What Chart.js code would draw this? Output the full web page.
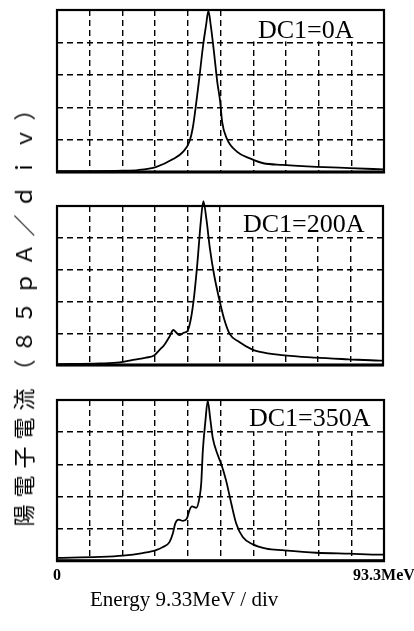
<!DOCTYPE html>
<html>
<head>
<meta charset="utf-8">
<script src="https://cdn.jsdelivr.net/npm/chart.js@4"></script>
<style>
body{margin:0;background:#fff;}
#wrap{position:relative;width:414px;height:631px;overflow:hidden;background:#fff;}
#wrap canvas{position:absolute;left:0;}
.tituloY{position:absolute;left:22px;top:309px;transform:translate(-50%,-50%) rotate(-90deg);
  font-family:"Noto Sans CJK JP";font-size:22px;letter-spacing:7px;white-space:nowrap;color:#000;}
.tituloX{position:absolute;left:90px;top:589px;font-family:"Liberation Serif";font-size:21px;
  line-height:21px;white-space:nowrap;color:#000;}
</style>
</head>
<body>
<div id="wrap">
  <canvas id="panel1" width="414" height="185" style="top:0px"></canvas>
  <canvas id="panel2" width="414" height="180" style="top:195px"></canvas>
  <canvas id="panel3" width="440" height="241" style="top:390px"></canvas>
  <div class="tituloY" id="tituloY"></div>
  <div class="tituloX" id="tituloX"></div>
</div>
<script>
// energy in divisions (9.33 MeV/div), current in divisions (85 pA/div)
var etiquetas = ['DC1=0A', 'DC1=200A', 'DC1=350A'];
var tituloY = '陽電子電流（８５ｐＡ／ｄｉｖ）';
var tituloX = 'Energy 9.33MeV / div';
var tickValores = [0, 10];
var tickEtiquetas = ['0', '93.3MeV'];

var energia1 = [0, 1, 2, 2.48, 3.04, 3.55, 3.86, 4.05, 4.15, 4.25, 4.35, 4.47, 4.56, 4.63, 4.70, 4.80, 4.90, 4.99, 5.05, 5.19, 5.5, 5.9, 6.31, 6.9, 7.94, 8.96, 10];
var corriente1 = [0.03, 0.03, 0.04, 0.06, 0.16, 0.4, 0.63, 0.94, 1.35, 2.07, 2.89, 3.92, 4.54, 4.97, 4.54, 3.71, 2.79, 2.17, 1.55, 1.04, 0.63, 0.42, 0.27, 0.22, 0.16, 0.12, 0.08];

var energia2 = [0, 1.31, 1.92, 2.33, 2.73, 2.99, 3.14, 3.29, 3.45, 3.57, 3.65, 3.75, 3.9, 4.0, 4.11, 4.21, 4.31, 4.41, 4.49, 4.58, 4.69, 4.82, 4.97, 5.12, 5.3, 5.58, 5.98, 6.19, 6.9, 7.92, 8.93, 9.9, 10];
var corriente2 = [0.03, 0.05, 0.08, 0.16, 0.23, 0.31, 0.47, 0.63, 0.89, 1.1, 1.03, 0.94, 1.02, 1.07, 1.47, 2.2, 3.25, 4.5, 5.15, 4.61, 3.67, 2.83, 2.1, 1.47, 0.97, 0.73, 0.49, 0.42, 0.31, 0.23, 0.18, 0.14, 0.14];

var energia3 = [0, 1.3, 2.01, 2.62, 3.03, 3.24, 3.44, 3.54, 3.62, 3.72, 3.85, 3.97, 4.05, 4.13, 4.26, 4.36, 4.41, 4.46, 4.54, 4.61, 4.68, 4.76, 4.92, 5.02, 5.17, 5.33, 5.48, 5.68, 5.99, 6.4, 6.9, 7.93, 8.94, 9.91, 10];
var corriente3 = [0.09, 0.12, 0.16, 0.24, 0.33, 0.43, 0.58, 0.84, 1.17, 1.28, 1.24, 1.31, 1.57, 1.69, 1.65, 1.98, 2.4, 3.43, 4.36, 4.98, 4.47, 3.84, 3.28, 3.02, 2.5, 1.78, 1.16, 0.74, 0.51, 0.38, 0.33, 0.25, 0.22, 0.19, 0.19];

document.getElementById('tituloY').textContent = tituloY;
document.getElementById('tituloX').textContent = tituloX;

// white box behind the label, frame around the plot, then the label
var marcoPanel = {
    id: 'marcoPanel',
    beforeDatasetsDraw: function(chart){
        var a = chart.chartArea, ctx = chart.ctx;
        var xs = chart.scales.x, ys = chart.scales.y;
        ctx.save();
        ctx.fillStyle = '#fff';
        var x0 = xs.getPixelForValue(5.55);
        var y1 = ys.getPixelForValue(4) - 1;
        ctx.fillRect(x0, a.top, a.right - x0, y1 - a.top);
        ctx.strokeStyle = '#000';
        ctx.lineWidth = 2.2;
        ctx.strokeRect(a.left, a.top, a.right - a.left, a.bottom - a.top);
        ctx.lineWidth = 3;
        ctx.beginPath();
        ctx.moveTo(a.left - 1, a.bottom);
        ctx.lineTo(a.right + 1, a.bottom);
        ctx.stroke();
        ctx.restore();
    },
    afterDatasetsDraw: function(chart){
        var o = chart.options.plugins.marcoPanel;
        var a = chart.chartArea, ctx = chart.ctx;
        ctx.save();
        ctx.font = '26px "Liberation Serif"';
        ctx.fillStyle = '#000';
        ctx.textBaseline = 'alphabetic';
        ctx.fillText(o.texto, a.left + o.dx, a.top + o.dy);
        ctx.restore();
    }
};

function crearPanel(id, energia, corriente, texto, dx, dy, padding, conTicks){
    var puntos = energia.map(function(e, i){ return {x: e, y: corriente[i]}; });
    return new Chart(document.getElementById(id), {
        type: 'line',
        data: {
            datasets: [{
                data: puntos,
                borderColor: '#000',
                borderWidth: 1.8,
                pointRadius: 0,
                fill: false,
                cubicInterpolationMode: 'monotone',
                clip: false
            }]
        },
        options: {
            responsive: false,
            animation: false,
            layout: { padding: padding },
            plugins: {
                legend: { display: false },
                tooltip: { enabled: false },
                marcoPanel: { texto: texto, dx: dx, dy: dy }
            },
            scales: {
                x: {
                    type: 'linear',
                    min: 0,
                    max: 10,
                    grid: { color: '#000', lineWidth: 1.4, drawTicks: false },
                    border: { display: false, dash: [6, 4] },
                    ticks: {
                        display: conTicks,
                        stepSize: 1,
                        autoSkip: false,
                        maxRotation: 0,
                        minRotation: 0,
                        padding: 5,
                        color: '#000',
                        font: { family: 'Liberation Serif', size: 16, weight: 'bold' },
                        callback: function(v){
                            var i = tickValores.indexOf(v);
                            return i >= 0 ? tickEtiquetas[i] : '';
                        }
                    }
                },
                y: {
                    min: 0,
                    max: 5,
                    grid: { color: '#000', lineWidth: 1.4, drawTicks: false },
                    border: { display: false, dash: [6, 4] },
                    ticks: { display: false, stepSize: 1 }
                }
            }
        },
        plugins: [marcoPanel]
    });
}

crearPanel('panel1', energia1, corriente1, etiquetas[0], 201, 28, {left: 57, right: 30, top: 10, bottom: 13}, false);
crearPanel('panel2', energia2, corriente2, etiquetas[1], 186, 26, {left: 57, right: 31, top: 11, bottom: 10}, false);
crearPanel('panel3', energia3, corriente3, etiquetas[2], 192, 26, {left: 57, right: 56, top: 10, bottom: 41}, true);
</script>
</body>
</html>
